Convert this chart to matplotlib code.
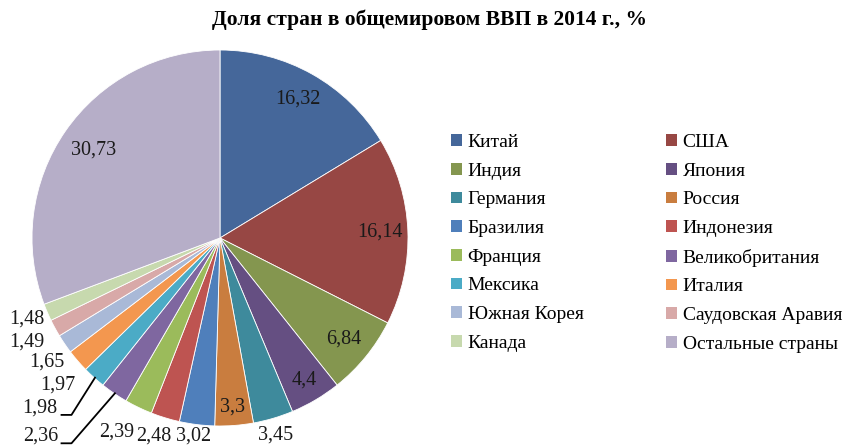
import matplotlib
matplotlib.use("Agg")
import matplotlib.pyplot as plt
from matplotlib.patches import Patch
import numpy as np

plt.rcParams['font.family'] = ['Liberation Serif', 'DejaVu Serif']

countries = ["Китай", "США", "Индия", "Япония", "Германия", "Россия", "Бразилия",
             "Индонезия", "Франция", "Великобритания", "Мексика", "Италия",
             "Южная Корея", "Саудовская Аравия", "Канада", "Остальные страны"]
shares = [16.32, 16.14, 6.84, 4.4, 3.45, 3.3, 3.02, 2.48, 2.39, 2.36, 1.98, 1.97,
          1.65, 1.49, 1.48, 30.73]
labels = ["16,32", "16,14", "6,84", "4,4", "3,45", "3,3", "3,02", "2,48", "2,39",
          "2,36", "1,98", "1,97", "1,65", "1,49", "1,48", "30,73"]
colors = ["#45679A", "#974744", "#84964F", "#654F82", "#3E8A9C", "#C97D3F",
          "#4F7FBB", "#BE5451", "#9BBB5B", "#7F67A0", "#4BABC6", "#F3974F",
          "#A9B9D7", "#D8A9A8", "#C7D9AE", "#B6AEC8"]
title = "Доля стран в общемировом ВВП в 2014 г., %"

W, H = 845, 445
fig = plt.figure(figsize=(W / 100, H / 100), dpi=100)

cx, cy, R = 220, 238, 188
ax = fig.add_axes([(cx - R) / W, (H - cy - R) / H, 2 * R / W, 2 * R / H])
wedges, _ = ax.pie(shares, colors=colors, startangle=90, counterclock=False,
                   radius=1, wedgeprops=dict(edgecolor="white", linewidth=0.6))
ax.set_xlim(-1, 1)
ax.set_ylim(-1, 1)
ax.set_aspect("equal")
ax.axis("off")

# label placement (layout): inside labels by radius factor, outside by explicit position
inside_r = {0: 0.85, 1: 0.85, 2: 0.85, 3: 0.88, 5: 0.9, 15: 0.82}
outside_pos = {4: (0.293, -1.048), 6: (-0.142, -1.052), 7: (-0.355, -1.052),
               8: (-0.549, -1.030), 9: (-0.953, -1.052), 10: (-0.957, -0.906),
               11: (-0.860, -0.782), 12: (-0.922, -0.658), 13: (-1.025, -0.552),
               14: (-1.025, -0.432)}
for i, w in enumerate(wedges):
    if i in inside_r:
        ang = np.deg2rad((w.theta1 + w.theta2) / 2)
        x, y = inside_r[i] * np.cos(ang), inside_r[i] * np.sin(ang)
    else:
        x, y = outside_pos[i]
    ax.text(x, y, labels[i], ha="center", va="center", fontsize=14.5,
            color="#1a1a1a", clip_on=False)

# leader lines
ax.plot([-0.843, -0.79, -0.665], [-0.941, -0.941, -0.743], color="black",
        lw=1.3, clip_on=False)
ax.plot([-0.843, -0.79, -0.559], [-1.092, -1.092, -0.826], color="black",
        lw=1.3, clip_on=False)

fig.text(430 / W, 1 - 20 / H, title, ha="center", va="center", fontsize=15.5,
         fontweight="bold")

# legend: row-major ordering in two columns
order = list(range(0, 16, 2)) + list(range(1, 16, 2))
handles = [Patch(facecolor=colors[i], edgecolor="none") for i in order]
names = [countries[i] for i in order]
fig.legend(handles, names, ncol=2, loc="upper left",
           bbox_to_anchor=(451 / W, 1 - 134 / H), frameon=False, fontsize=14,
           handlelength=0.55, handleheight=0.55, handletextpad=0.3,
           columnspacing=4.25, labelspacing=0.6, borderaxespad=0, borderpad=0)

fig.savefig("out.png", dpi=100)
